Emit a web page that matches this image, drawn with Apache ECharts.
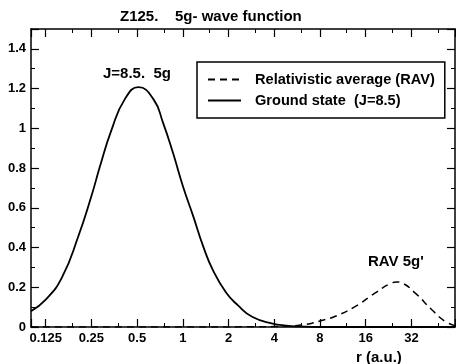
<!DOCTYPE html>
<html>
<head>
<meta charset="utf-8">
<script src="https://cdn.jsdelivr.net/npm/echarts@6/dist/echarts.min.js"></script>
<style>html,body{margin:0;padding:0;background:#fff;}#c{width:456px;height:364px;}</style>
</head>
<body>
<div id="c"></div>
<script>
// Ground state (J=8.5), solid
var rGround = [0.1, 0.125, 0.16, 0.205, 0.25, 0.285, 0.34, 0.415, 0.51, 0.64, 0.74, 0.86, 1.0, 1.17, 1.36, 1.58, 1.93, 2.3, 2.88, 3.9, 4.8, 5.8, 8, 16, 32, 62];
var yGround = [0.080, 0.138, 0.25, 0.457, 0.659, 0.81, 0.995, 1.147, 1.207, 1.147, 1.029, 0.878, 0.71, 0.558, 0.407, 0.285, 0.172, 0.11, 0.05, 0.017, 0.007, 0.003, 0, 0, 0, 0];
// Relativistic average (RAV), dashed
var rRav = [0.1, 1, 3, 4, 5, 6, 7, 8, 10.1, 13.7, 18.5, 23.8, 25.7, 27.7, 33.8, 43.5, 53.2, 62];
var yRav = [0, 0, 0.001, 0.002, 0.005, 0.01, 0.018, 0.03, 0.054, 0.104, 0.172, 0.222, 0.227, 0.222, 0.172, 0.088, 0.029, 0.007];
var xTickLabels = ['0.125', '0.25', '0.5', '1', '2', '4', '8', '16', '32'];
var yTickLabels = ['0', '0.2', '0.4', '0.6', '0.8', '1', '1.2', '1.4'];

function pairs(xs, ys) { return xs.map(function (x, i) { return [x, ys[i]]; }); }
var FONT = 'Liberation Sans, Arial, Helvetica, sans-serif';

function xLabel(v) {
  var s = String(+Number(v).toPrecision(3));
  return xTickLabels.indexOf(s) >= 0 ? s : '';
}
function yLabel(v) {
  var s = String(+Number(v).toFixed(1));
  return yTickLabels.indexOf(s) >= 0 ? s : '';
}

var chart = echarts.init(document.getElementById('c'), null, { renderer: 'canvas' });
var xCommon = {
  type: 'log', logBase: 2, min: 0.1, max: 62, splitNumber: 10,
  axisLine: { show: true, onZero: false, lineStyle: { color: '#000', width: 1.5 } },
  axisTick: { show: true, inside: true, length: 8, lineStyle: { color: '#000', width: 1.2 } },
  minorTick: { show: true, splitNumber: 2, length: 4, lineStyle: { color: '#000', width: 1 } },
  splitLine: { show: false }, minorSplitLine: { show: false }
};
var yCommon = {
  type: 'value', min: 0, max: 1.5, interval: 0.2,
  axisLine: { show: true, lineStyle: { color: '#000', width: 1.5 } },
  axisTick: { show: true, inside: true, length: 8, lineStyle: { color: '#000', width: 1.2 } },
  minorTick: { show: true, splitNumber: 2, length: 4, lineStyle: { color: '#000', width: 1 } },
  splitLine: { show: false }
};
chart.setOption({
  animation: false,
  backgroundColor: '#fff',
  title: {
    text: 'Z125.    5g- wave function', left: 115, top: 4,
    textStyle: { fontFamily: FONT, fontWeight: 'bold', fontSize: 15, color: '#000' }
  },
  grid: { left: 31, right: 1, top: 29, bottom: 37 },
  xAxis: [
    Object.assign({}, xCommon, {
      position: 'bottom',
      axisLabel: { show: true, margin: 5, showMinLabel: false, showMaxLabel: false, formatter: xLabel,
        fontFamily: FONT, fontWeight: 'bold', fontSize: 13, color: '#000' }
    }),
    Object.assign({}, xCommon, { position: 'top', axisLabel: { show: false } })
  ],
  yAxis: [
    Object.assign({}, yCommon, {
      position: 'left',
      axisLabel: { show: true, margin: 5, showMaxLabel: false, formatter: yLabel,
        fontFamily: FONT, fontWeight: 'bold', fontSize: 13, color: '#000' }
    }),
    Object.assign({}, yCommon, { position: 'right', axisLabel: { show: false } })
  ],
  legend: {
    orient: 'vertical', left: 197, top: 62,
    data: ['Relativistic average (RAV)', 'Ground state  (J=8.5)'],
    backgroundColor: '#fff', borderColor: '#000', borderWidth: 1.5,
    padding: [10, 10, 10, 10], itemGap: 6, itemWidth: 33, itemHeight: 14,
    itemStyle: { opacity: 0 },
    textStyle: { fontFamily: FONT, fontWeight: 'bold', fontSize: 14.6, color: '#000', padding: [0, 0, 0, 9] }
  },
  graphic: [
    { type: 'text', left: 103, top: 66, style: { text: 'J=8.5.  5g', font: 'bold 15px ' + FONT, fill: '#000' } },
    { type: 'text', left: 368, top: 254, style: { text: "RAV 5g'", font: 'bold 15px ' + FONT, fill: '#000' } },
    { type: 'text', left: 356, top: 350, style: { text: 'r (a.u.)', font: 'bold 15px ' + FONT, fill: '#000' } }
  ],
  series: [
    {
      name: 'Relativistic average (RAV)', type: 'line', xAxisIndex: 0, yAxisIndex: 0,
      data: pairs(rRav, yRav), showSymbol: false, symbol: 'none', smooth: 0.5,
      lineStyle: { color: '#000', width: 1.5, type: [7, 5] }, itemStyle: { color: '#000' }, z: 3
    },
    {
      name: 'Ground state  (J=8.5)', type: 'line', xAxisIndex: 0, yAxisIndex: 0,
      data: pairs(rGround, yGround), showSymbol: false, symbol: 'none', smooth: 0.5,
      lineStyle: { color: '#000', width: 1.8, type: 'solid' }, itemStyle: { color: '#000' }, z: 4
    }
  ]
});
</script>
</body>
</html>
